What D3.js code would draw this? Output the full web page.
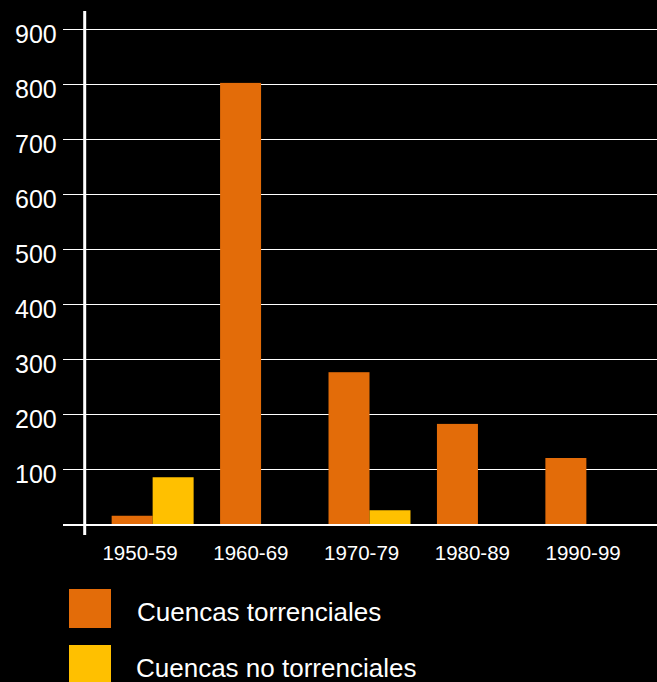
<!DOCTYPE html>
<meta charset="utf-8">
<style>
body { margin: 0; background: #000; }
svg { display: block; background: #000; }
.grid line { stroke: #fff; stroke-width: 1; }
.tick text { fill: #fff; font-family: "Liberation Sans", Arial, sans-serif; }
.legend text { fill: #fff; font-family: "Liberation Sans", Arial, sans-serif; font-size: 26px; }
</style>
<svg width="657" height="682"></svg>
<script src="https://cdnjs.cloudflare.com/ajax/libs/d3/7.8.5/d3.min.js"></script>
<script>

var decades = ["1950-59", "1960-69", "1970-79", "1980-89", "1990-99"];
var torrenciales = [15, 802, 276, 182, 120];
var noTorrenciales = [85, 0, 25, 0, 0];
var seriesNames = ["Cuencas torrenciales", "Cuencas no torrenciales"];
var colors = ["#E36C09", "#FFC000"];
var yTicks = [100, 200, 300, 400, 500, 600, 700, 800, 900];

var svg = d3.select("svg"),
    width = +svg.attr("width"),
    height = +svg.attr("height");

var y = d3.scaleLinear()
    .domain([0, 900])
    .range([524, 29]);

var x = d3.scaleBand()
    .domain(decades)
    .range([84, 655])
    .paddingInner(0.244)
    .paddingOuter(0.255);

var x1 = d3.scaleBand()
    .domain([0, 1])
    .range([0, x.bandwidth()]);

// the category labels sit on a slightly wider spacing than the bars
var xLabels = d3.scaleBand()
    .domain(decades)
    .range([84.7, 638.5]);

var data = decades.map(function(d, i) {
  return { decade: d, values: [torrenciales[i], noTorrenciales[i]] };
});

// gridlines
svg.append("g")
    .attr("class", "grid")
  .selectAll("line")
    .data(yTicks)
  .enter().append("line")
    .attr("x1", 63)
    .attr("x2", width)
    .attr("y1", function(d) { return Math.round(y(d)) + 0.5; })
    .attr("y2", function(d) { return Math.round(y(d)) + 0.5; });

// bars
svg.append("g")
  .selectAll("g")
    .data(data)
  .enter().append("g")
    .attr("transform", function(d) { return "translate(" + x(d.decade) + ",0)"; })
  .selectAll("rect")
    .data(function(d) { return d.values; })
  .enter().append("rect")
    .attr("x", function(d, i) { return x1(i); })
    .attr("width", x1.bandwidth())
    .attr("y", function(d) { return y(d); })
    .attr("height", function(d) { return y(0) - y(d); })
    .attr("fill", function(d, i) { return colors[i]; });

// baseline
svg.append("line")
    .attr("x1", 63)
    .attr("x2", width)
    .attr("y1", y(0) + 1)
    .attr("y2", y(0) + 1)
    .attr("stroke", "#fff")
    .attr("stroke-width", 2);

// y axis
var yAxis = svg.append("g")
    .attr("transform", "translate(84.7,0)")
    .call(d3.axisLeft(y).tickValues(yTicks).tickSize(0).tickPadding(28));
yAxis.select(".domain").remove();
yAxis.selectAll(".tick text")
    .attr("font-size", 25)
    .attr("dy", "0.52em");
svg.append("line")
    .attr("x1", 84.7).attr("x2", 84.7)
    .attr("y1", 11).attr("y2", 535)
    .attr("stroke", "#fff")
    .attr("stroke-width", 3);

// x axis labels
var xAxis = svg.append("g")
    .attr("transform", "translate(0," + y(0) + ")")
    .call(d3.axisBottom(xLabels).tickSize(0).tickPadding(21));
xAxis.select(".domain").remove();
xAxis.selectAll(".tick text")
    .attr("font-size", 20.5);

// legend
var legend = svg.append("g")
    .attr("class", "legend")
  .selectAll("g")
    .data(seriesNames)
  .enter().append("g")
    .attr("transform", function(d, i) { return "translate(69," + (589 + i * 56) + ")"; });

legend.append("rect")
    .attr("width", 42)
    .attr("height", 39)
    .attr("fill", function(d, i) { return colors[i]; });

legend.append("text")
    .attr("x", function(d, i) { return i === 0 ? 68 : 67; })
    .attr("y", 23)
    .attr("dy", "0.35em")
    .text(function(d) { return d; });

</script>
